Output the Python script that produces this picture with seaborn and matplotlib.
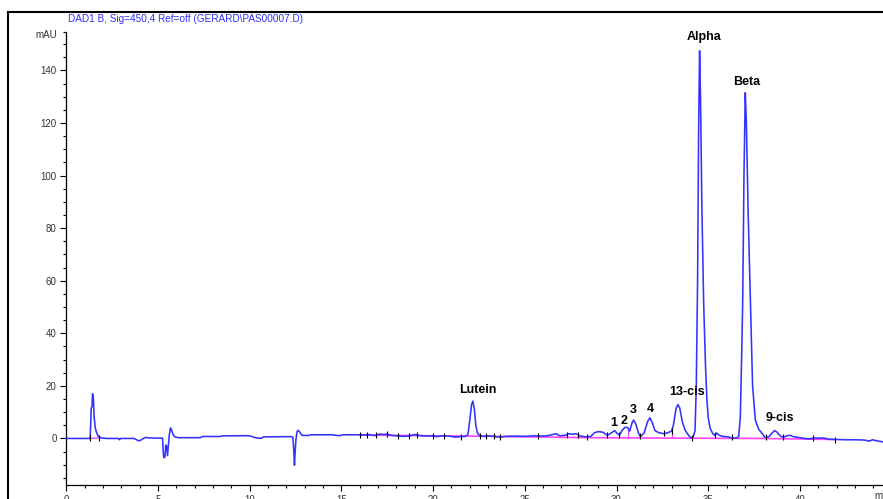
import numpy as np
import pandas as pd
import matplotlib
matplotlib.use("Agg")
import matplotlib.pyplot as plt
from matplotlib.patches import Rectangle
import seaborn as sns

# Detector trace (retention time in min, absorbance in mAU)
time_min = [
    0.0, 1.30, 1.36, 1.40, 1.43, 1.47, 1.52, 1.58, 1.65, 1.75, 1.9, 2.2,
    2.85, 2.9, 2.95, 3.7, 3.8, 3.95, 4.05, 4.2, 4.35, 4.5,
    5.25, 5.28, 5.32, 5.38, 5.42, 5.47, 5.52, 5.56, 5.62, 5.68, 5.74, 5.82, 5.92, 6.1,
    7.3, 7.45, 8.4, 8.5, 9.9, 10.05, 10.3, 10.5, 10.65, 10.75,
    12.25, 12.35, 12.40, 12.44, 12.47, 12.52, 12.58, 12.64, 12.72, 12.85, 13.2, 13.3,
    14.5, 14.8, 14.95, 15.05, 16.0,
    16.2, 16.5, 16.8, 17.1, 17.3, 17.5, 17.7, 18.0, 18.4, 18.7, 19.0, 19.2, 19.5,
    19.9, 20.2, 20.5, 20.9, 21.2, 21.5, 21.75, 21.9, 22.0, 22.1, 22.17, 22.25,
    22.33, 22.42, 22.55, 22.8, 23.0, 23.3, 23.6, 24.0, 24.5, 25.0, 25.5, 25.8,
    26.2, 26.5, 26.7, 26.9, 27.2, 27.4, 27.6, 27.8, 28.0, 28.3, 28.6, 28.8,
    29.0, 29.25, 29.5, 29.7, 29.9, 30.05, 30.17, 30.3, 30.45, 30.6, 30.72, 30.85,
    30.93, 31.05, 31.2, 31.3, 31.5, 31.7, 31.82, 31.95, 32.1, 32.3, 32.6, 32.8,
    33.0, 33.1, 33.25, 33.35, 33.45, 33.6, 33.75, 33.95, 34.08, 34.18, 34.28,
    34.35, 34.42, 34.48, 34.53, 34.58, 34.65, 34.75, 34.85, 34.93, 35.0, 35.1,
    35.25, 35.35, 35.48, 35.6, 35.8, 36.1, 36.3, 36.55, 36.66, 36.75, 36.82,
    36.88, 36.95, 37.02, 37.08, 37.18, 37.3, 37.42, 37.57, 37.75, 37.93, 38.1,
    38.3, 38.5, 38.62, 38.75, 38.95, 39.1, 39.3, 39.45, 39.6, 39.8, 40.0, 40.5,
    40.8, 41.0, 41.3, 41.6, 42.0, 42.5, 43.0, 43.5, 43.8, 43.95, 44.2, 44.53,
]
signal_mau = [
    0.0, 0.0, 11.5, 12.0, 17.0, 16.0, 8.0, 4.0, 2.2, 0.8, 0.2, 0.0,
    0.0, -0.5, 0.0, 0.0, -0.4, -0.9, -0.7, 0.0, 0.4, 0.2,
    0.1, -5.0, -7.3, -7.0, -2.5, -3.0, -6.5, -3.0, 1.5, 4.0, 3.2, 1.5, 0.6, 0.3,
    0.3, 0.75, 0.75, 1.0, 1.05, 0.9, 0.3, 0.1, 0.1, 0.6,
    0.7, 0.5, -4.0, -10.2, -6.0, -0.5, 2.6, 3.1, 2.5, 1.2, 1.1, 1.4,
    1.4, 1.1, 1.1, 1.4, 1.4,
    1.3, 1.5, 1.1, 1.7, 1.5, 1.7, 1.2, 1.0, 0.8, 1.0, 1.5, 1.2, 0.9,
    1.0, 0.7, 1.0, 0.9, 0.5, 0.7, 0.8, 1.5, 7.0, 13.0, 14.2, 11.0,
    5.0, 2.0, 1.0, 0.8, 1.0, 0.8, 0.5, 0.8, 0.9, 0.8, 1.0, 0.9,
    1.0, 1.5, 1.8, 1.0, 1.2, 1.8, 1.6, 1.8, 1.0, 0.6, 0.8, 2.2,
    2.6, 2.4, 1.2, 2.0, 3.0, 1.8, 1.3, 3.0, 4.2, 4.2, 2.8, 6.0,
    7.0, 5.5, 2.0, 0.7, 2.0, 6.5, 7.9, 6.0, 3.0, 2.2, 1.8, 2.2,
    2.8, 5.0, 11.5, 12.9, 11.5, 6.0, 3.0, 1.0, 0.1, 0.5, 3.0,
    20.0, 60.0, 120.0, 147.5, 130.0, 90.0, 52.0, 28.0, 14.6, 8.0, 4.0,
    1.8, 1.2, 2.0, 1.2, 0.8, 0.6, 0.1, 0.2, 0.7, 8.0, 30.0,
    52.0, 100.0, 131.5, 120.0, 85.0, 52.0, 20.0, 7.0, 3.5, 2.0, 0.4,
    0.6, 2.2, 3.0, 2.4, 0.8, 0.5, 1.0, 1.2, 0.8, 0.5, 0.3, -0.2,
    0.2, 0.1, 0.2, -0.3, -0.4, -0.5, -0.5, -0.6, -1.0, -0.5, -0.9, -1.3,
]

# Integration baselines
solvent_base_t = [1.29, 1.78]
solvent_base_v = [0.0, 0.2]
main_base_t = [16.0, 22.0, 28.5, 34.0, 38.0, 41.9]
main_base_v = [1.3, 0.9, 0.3, 0.1, 0.0, -0.4]

# Peak-split drop lines (time, top, bottom)
drop_t = [30.62, 33.0]
drop_top = [4.0, 2.8]
drop_bottom = [0.2, 0.1]

# Integration event marks
event_t = [1.29, 1.78, 16.0, 16.4, 16.9, 17.5, 18.1, 18.7, 19.1, 20.0, 20.6,
           21.5, 22.55, 22.9, 23.3, 23.65, 25.7, 27.3, 27.9, 28.4, 29.47,
           30.15, 31.28, 32.6, 33.0, 34.1, 35.37, 36.28, 38.15, 39.06, 40.7, 41.9]
event_v = [0.0, 0.3, 1.4, 1.4, 1.2, 1.6, 1.0, 1.0, 1.3, 1.0, 0.9,
           0.6, 0.9, 0.9, 0.8, 0.5, 0.9, 1.2, 1.4, 0.6, 1.2,
           1.5, 0.8, 1.9, 2.8, 0.2, 1.3, 0.4, 0.4, 0.5, 0.0, -0.4]

# Peak annotations
peak_names = ["Lutein", "1", "2", "3", "4", "13-cis", "Alpha", "Beta", "9-cis"]
label_t = [22.43, 29.86, 30.41, 30.92, 31.82, 33.86, 34.79, 37.10, 38.91]
label_v = [18.4, 5.8, 6.8, 10.8, 11.1, 17.6, 152.8, 135.7, 7.9]

x_major = [0, 5, 10, 15, 20, 25, 30, 35, 40]
y_major = [0, 20, 40, 60, 80, 100, 120, 140]

sns.set_theme(style="white")
plt.rcParams["font.family"] = ["Liberation Sans", "DejaVu Sans"]

W, H = 883, 499
fig = plt.figure(figsize=(W / 100, H / 100), dpi=100)
fig.patch.set_facecolor("white")

x0_px, xmax = 66.3, 44.53
bottom_px, top_px = 485, 32
ymin, ymax = -17.7, 154.6
ax = fig.add_axes([x0_px / W, (H - bottom_px) / H, (W - x0_px) / W,
                   (bottom_px - top_px) / H])
ax.set_facecolor("white")

trace = pd.DataFrame({"t": time_min, "v": signal_mau})
sns.lineplot(data=trace, x="t", y="v", ax=ax, color="#3333ff", lw=1.15,
             estimator=None, sort=False, zorder=3)

ax.plot(solvent_base_t, solvent_base_v, color="#ff44ff", lw=1.0, zorder=2)
ax.plot(main_base_t, main_base_v, color="#ff44ff", lw=1.2, zorder=2)
for t, a, b in zip(drop_t, drop_top, drop_bottom):
    ax.plot([t, t], [b, a], color="#ff44ff", lw=0.9, zorder=2)
ax.scatter(event_t, event_v, marker="|", s=22, color="black", lw=0.8, zorder=4)

for name, t, v in zip(peak_names, label_t, label_v):
    ax.text(t, v, name, ha="center", va="center", fontsize=9,
            fontweight="bold", color="black", zorder=5)

ax.set_xlim(0, xmax)
ax.set_ylim(ymin, ymax)
ax.set_xticks(x_major)
ax.set_xticks(np.arange(1, 45, 1), minor=True)
ax.set_yticks(y_major)
ax.set_yticks(list(np.arange(-15, 155, 5)) + [ymax], minor=True)
ax.set_xlabel("")
ax.set_ylabel("")

for side in ("top", "right"):
    ax.spines[side].set_visible(False)
for side in ("left", "bottom"):
    ax.spines[side].set_color("black")
    ax.spines[side].set_linewidth(0.9)

ax.tick_params(axis="both", which="major", direction="out", length=4.5,
               width=0.8, color="black", labelsize=7, labelcolor="#333333",
               pad=2.5, left=True, bottom=True)
ax.tick_params(axis="both", which="minor", direction="out", length=2.5,
               width=0.8, color="black", left=True, bottom=True)

fig.text(57 / W, 1 - 35 / H, "mAU", ha="right", va="center", fontsize=7,
         color="#333333")
fig.text(874 / W, 1 - 491 / H, "min", ha="left", va="top", fontsize=7,
         color="#333333")
fig.text(68 / W, 1 - 19 / H, r"DAD1 B, Sig=450,4 Ref=off (GERARD\PAS00007.D)",
         ha="left", va="center", fontsize=7.2, color="#2f2fff")

# Report frame
fig.add_artist(Rectangle((8 / W, -0.2), 1.2, 1.2 - 12 / H,
                         transform=fig.transFigure, fill=False,
                         edgecolor="black", lw=1.5, clip_on=False))

fig.savefig("out.png", dpi=100)
